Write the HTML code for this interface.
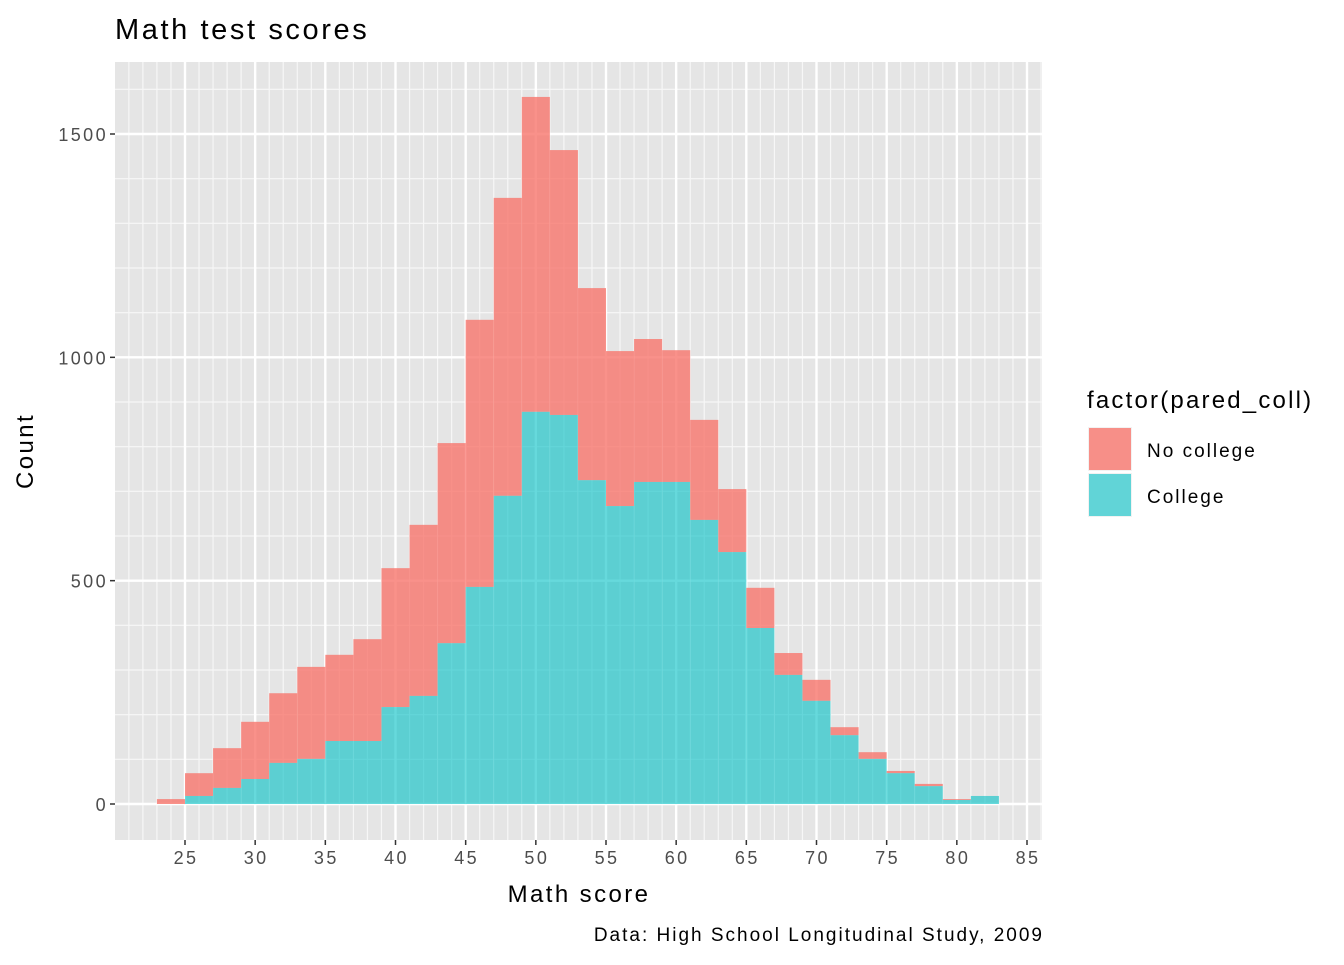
<!DOCTYPE html>
<html><head><meta charset="utf-8"><style>
body{margin:0;background:#fff;}
svg text{font-family:"Liberation Sans",Arial,sans-serif;letter-spacing:2.4px;}
</style></head><body>
<svg id="chart" width="1344" height="960" xmlns="http://www.w3.org/2000/svg">
<rect x="0" y="0" width="1344" height="960" fill="#fff"/>
<text x="115" y="39" font-size="29" fill="#000" style="letter-spacing:2.6px">Math test scores</text>
<rect x="115" y="62" width="927" height="778" fill="#e5e5e5"/>
<g id="grid"></g>
<g id="bars"></g>
<g id="axes"></g>
<text x="33" y="451" font-size="24" text-anchor="middle" transform="rotate(-90 33 451)">Count</text>
<text x="579" y="902" font-size="24" text-anchor="middle">Math score</text>
<text x="1044" y="941" font-size="19" text-anchor="end" style="letter-spacing:2px">Data: High School Longitudinal Study, 2009</text>
<g>
<text x="1087" y="408" font-size="24" style="letter-spacing:2.2px">factor(pared_coll)</text>
<rect x="1088" y="427" width="44" height="44" fill="#f2f2f2"/>
<rect x="1089" y="428" width="42" height="42" fill="#F8766D" fill-opacity="0.8"/>
<text x="1147" y="457" font-size="19" style="letter-spacing:2px">No college</text>
<rect x="1088" y="473" width="44" height="44" fill="#f2f2f2"/>
<rect x="1089" y="474" width="42" height="42" fill="#00BFC4" fill-opacity="0.6"/>
<text x="1147" y="503" font-size="19" style="letter-spacing:2px">College</text>
</g>
</svg>
<script>
const binStarts=[23,25,27,29,31,33,35,37,39,41,43,45,47,49,51,53,55,57,59,61,63,65,67,69,71,73,75,77,79,81];
const totalCounts=[11,69,125,184,248,307,334,369,528,625,808,1084,1357,1583,1464,1155,1014,1041,1016,860,705,484,338,278,172,116,74,45,11,18];
const collegeCounts=[0,18,36,56,92,101,141,141,217,242,360,486,690,878,871,725,667,721,721,636,564,394,289,231,154,101,69,40,9,18];
const xTicks=[25,30,35,40,45,50,55,60,65,70,75,80,85];
const yTicks=[0,500,1000,1500];
const binWidth=2;
const ns="http://www.w3.org/2000/svg";
const X=v=>185+(v-25)*(1027-185)/60;
const Y=v=>804-v*(804-134)/1500;
const PL=115,PR=1042,PT=62,PB=840;
function mk(t,a,p){const e=document.createElementNS(ns,t);for(const k in a)e.setAttribute(k,a[k]);p.appendChild(e);return e;}
const grid=document.getElementById('grid'),bars=document.getElementById('bars'),axes=document.getElementById('axes');
for(let v=20;v<=87;v+=1){if(v%5===0)continue;const x=X(v);if(x<PL||x>PR)continue;
 const l=mk('line',{x1:x,x2:x,y1:PT,y2:PB,stroke:'#f7f7f7','stroke-width':1.2},grid);
 
 }
for(let v=-100;v<=1700;v+=100){if(v%500===0)continue;const y=Y(v);if(y<PT||y>PB)continue;
 const l=mk('line',{x1:PL,x2:PR,y1:y,y2:y,stroke:'#f7f7f7','stroke-width':1.2},grid);
 
 }
xTicks.forEach(v=>{const x=X(v);
 const l=mk('line',{x1:x,x2:x,y1:PT,y2:PB,stroke:'#fff','stroke-width':2.4},grid);
 
 
 const t=mk('line',{x1:x,x2:x,y1:PB,y2:PB+5,stroke:'#333','stroke-width':1.5},axes);
 
 
 const tx=mk('text',{x:x+1,y:PB+24,'font-size':18,'text-anchor':'middle',fill:'#4d4d4d'},axes);tx.textContent=v;
 
 });
yTicks.forEach(v=>{const y=Y(v);
 const l=mk('line',{x1:PL,x2:PR,y1:y,y2:y,stroke:'#fff','stroke-width':2.4},grid);
 
 
 const t=mk('line',{x1:PL-5,x2:PL,y1:y,y2:y,stroke:'#333','stroke-width':1.5},axes);
 
 
 const tx=mk('text',{x:PL-7,y:y+7,'font-size':18,'text-anchor':'end',fill:'#4d4d4d'},axes);tx.textContent=v;
 
 });
binStarts.forEach((b,i)=>{const x0=X(b),x1=X(b+binWidth);
 const c=collegeCounts[i],t=totalCounts[i];
 if(t>c){const r=mk('rect',{x:x0,y:Y(t),width:x1-x0,height:Y(c)-Y(t),fill:'#F8766D','fill-opacity':0.8},bars);
  
  }
 if(c>0){const r=mk('rect',{x:x0,y:Y(c),width:x1-x0,height:Y(0)-Y(c),fill:'#00BFC4','fill-opacity':0.6},bars);
  
  }
});
</script>
</body></html>
